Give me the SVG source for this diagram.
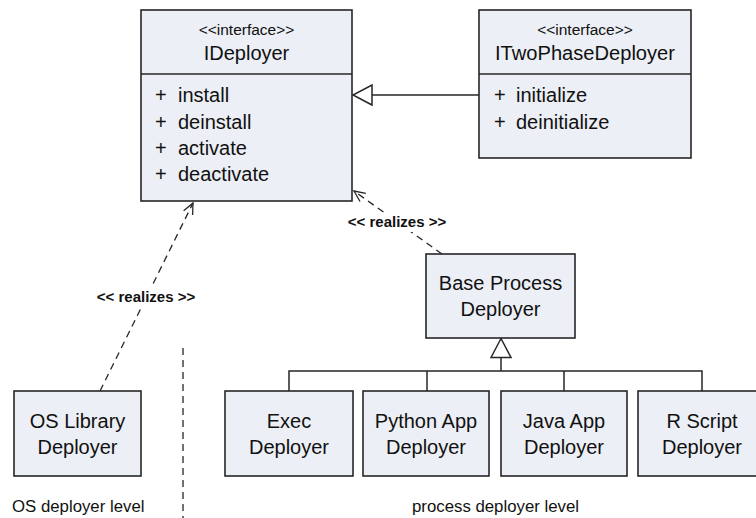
<svg xmlns="http://www.w3.org/2000/svg" width="756" height="518" viewBox="0 0 756 518">
<defs>
<style>
.box{fill:#eceff5;stroke:#262626;stroke-width:1.6}
.ln{fill:none;stroke:#262626;stroke-width:1.5}
.dash{fill:none;stroke:#262626;stroke-width:1.3;stroke-dasharray:7,5}
.t{font-family:"Liberation Sans",Arial,sans-serif;fill:#111;font-size:20px}
.c{text-anchor:middle}
.st{font-size:15.5px}
.lbl{font-family:"Liberation Sans",Arial,sans-serif;fill:#111;font-size:15px;font-weight:bold;text-anchor:middle}
.lvl{font-family:"Liberation Sans",Arial,sans-serif;fill:#111;font-size:16.8px}
</style>
<marker id="tri" markerWidth="20" markerHeight="22" refX="19" refY="10" orient="auto" markerUnits="userSpaceOnUse" overflow="visible">
<path d="M0,0 L19,10 L0,20 Z" fill="#fff" stroke="#262626" stroke-width="1.5"/>
</marker>
<marker id="open" markerWidth="12" markerHeight="12" refX="11" refY="5" orient="auto" markerUnits="userSpaceOnUse" overflow="visible">
<path d="M0,0 L11,5 L0,10" fill="none" stroke="#262626" stroke-width="1.3"/>
</marker>
</defs>

<g id="connectors">
<line class="ln" x1="479" y1="95" x2="353" y2="95" marker-end="url(#tri)"/>
<line class="dash" x1="100" y1="391" x2="193" y2="203" marker-end="url(#open)"/>
<rect x="93" y="288" width="106" height="19" fill="#fff"/>
<text class="lbl" x="146" y="302">&lt;&lt; realizes &gt;&gt;</text>
<line class="dash" x1="442" y1="254" x2="354" y2="191" marker-end="url(#open)"/>
<rect x="344" y="213" width="106" height="19" fill="#fff"/>
<text class="lbl" x="397" y="227">&lt;&lt; realizes &gt;&gt;</text>
<polyline class="ln" points="289,391 289,371 702,371 702,391"/>
<line class="ln" x1="427" y1="371" x2="427" y2="391"/>
<line class="ln" x1="564" y1="371" x2="564" y2="391"/>
<line class="ln" x1="501" y1="371" x2="501" y2="338.5" marker-end="url(#tri)"/>
<line class="dash" x1="183" y1="348" x2="183" y2="518" stroke-dasharray="8,5"/>
</g>

<g id="IDeployer">
<rect class="box" x="141" y="10" width="211" height="191"/>
<line class="ln" x1="141" y1="74" x2="352" y2="74"/>
<text class="t c st" x="246.5" y="35">&lt;&lt;interface&gt;&gt;</text>
<text class="t c" x="246.5" y="60">IDeployer</text>
<text class="t" x="155" y="102">+</text><text class="t" x="178" y="102">install</text>
<text class="t" x="155" y="128.5">+</text><text class="t" x="178" y="128.5">deinstall</text>
<text class="t" x="155" y="155">+</text><text class="t" x="178" y="155">activate</text>
<text class="t" x="155" y="181">+</text><text class="t" x="178" y="181">deactivate</text>
</g>

<g id="ITwoPhaseDeployer">
<rect class="box" x="479" y="10" width="212" height="148"/>
<line class="ln" x1="479" y1="74" x2="691" y2="74"/>
<text class="t c st" x="585" y="35">&lt;&lt;interface&gt;&gt;</text>
<text class="t c" x="585" y="60" textLength="180" lengthAdjust="spacingAndGlyphs">ITwoPhaseDeployer</text>
<text class="t" x="494" y="102">+</text><text class="t" x="516" y="102">initialize</text>
<text class="t" x="494" y="128.5">+</text><text class="t" x="516" y="128.5">deinitialize</text>
</g>

<g id="BaseProcessDeployer">
<rect class="box" x="426" y="254" width="149" height="84"/>
<text class="t c" x="500.5" y="290">Base Process</text>
<text class="t c" x="500.5" y="316">Deployer</text>
</g>

<g id="OSLibraryDeployer">
<rect class="box" x="14" y="391" width="127" height="85"/>
<text class="t c" x="77.5" y="428">OS Library</text>
<text class="t c" x="77.5" y="454">Deployer</text>
</g>

<g id="ExecDeployer">
<rect class="box" x="225" y="391" width="128" height="85"/>
<text class="t c" x="289" y="428">Exec</text>
<text class="t c" x="289" y="454">Deployer</text>
</g>

<g id="PythonAppDeployer">
<rect class="box" x="363" y="391" width="126" height="85"/>
<text class="t c" x="426" y="428">Python App</text>
<text class="t c" x="426" y="454">Deployer</text>
</g>

<g id="JavaAppDeployer">
<rect class="box" x="501" y="391" width="126" height="85"/>
<text class="t c" x="564" y="428">Java App</text>
<text class="t c" x="564" y="454">Deployer</text>
</g>

<g id="RScriptDeployer">
<rect class="box" x="638" y="391" width="128" height="85"/>
<text class="t c" x="702" y="428">R Script</text>
<text class="t c" x="702" y="454">Deployer</text>
</g>

<g id="levels">
<text class="lvl" x="12" y="512">OS deployer level</text>
<text class="lvl" x="495.5" y="512" text-anchor="middle">process deployer level</text>
</g>
</svg>
